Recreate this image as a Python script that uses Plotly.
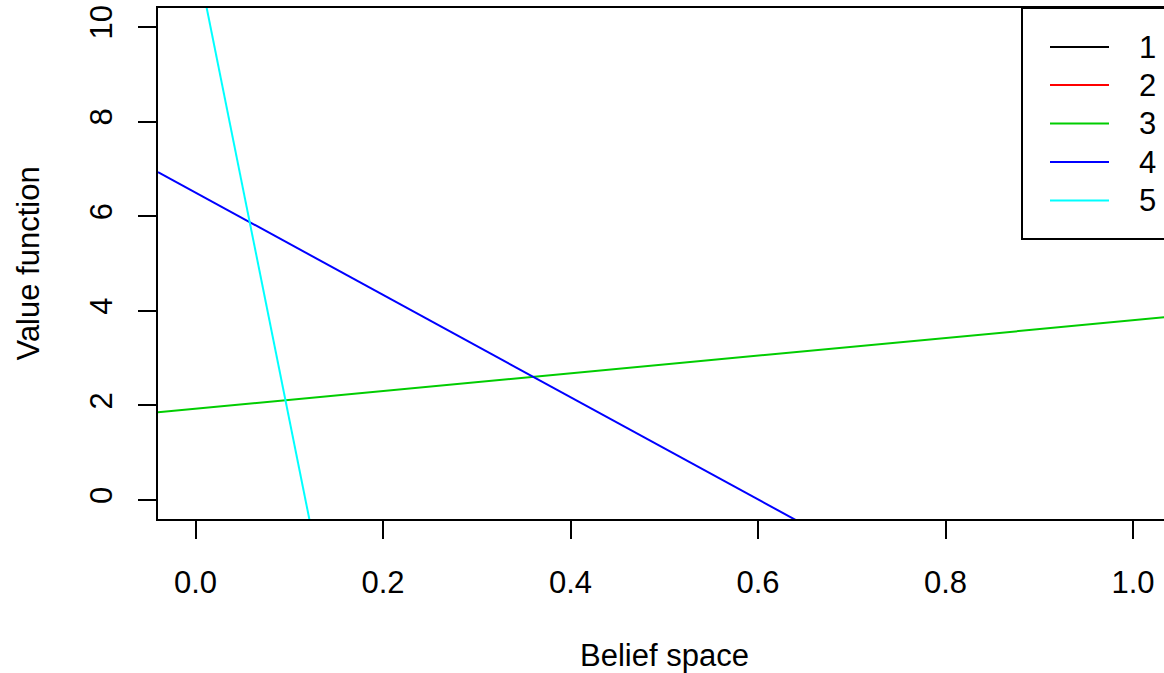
import plotly.graph_objects as go

# Alpha vectors: value at belief 0 and belief 1
series_names = ["1", "2", "3", "4", "5"]
series_colors = ["#000000", "#FF0000", "#00CD00", "#0000FF", "#00FFFF"]
value_at_0 = [None, None, 1.93, 6.50, 11.58]
value_at_1 = [None, None, 3.80, -4.31, -87.1]

x_ticks = [0.0, 0.2, 0.4, 0.6, 0.8, 1.0]
y_ticks = [0, 2, 4, 6, 8, 10]

XLIM = [-0.04, 1.04]
W, H = 1164, 673
L, T, B = 158, 8, 154
FONT = dict(family="Liberation Sans, Arial, sans-serif", size=31, color="black")
LW = 2

fig = go.Figure()
for name, col, v0, v1 in zip(series_names, series_colors, value_at_0, value_at_1):
    if v0 is None:
        xs, ys = [], []
    else:
        slope = v1 - v0
        xs = XLIM
        ys = [v0 + slope * XLIM[0], v0 + slope * XLIM[1]]
    fig.add_trace(go.Scatter(x=xs, y=ys, mode="lines", name=name,
                             line=dict(color=col, width=LW), showlegend=False,
                             hoverinfo="skip"))

plot_w = W - L
x_right = XLIM[0] + plot_w / 937.5

fig.update_layout(
    width=W, height=H,
    margin=dict(l=L, r=0, t=T, b=B, pad=0),
    plot_bgcolor="white", paper_bgcolor="white",
    font=FONT,
    showlegend=False,
    xaxis=dict(range=[XLIM[0], x_right], tickvals=x_ticks,
               ticktext=[f"{v:.1f}" for v in x_ticks],
               showgrid=False, zeroline=False, showline=True, mirror=True,
               linecolor="black", linewidth=2, ticks="outside", ticklen=18,
               tickwidth=2, tickcolor="black", ticklabelstandoff=17,
               tickfont=FONT),
    yaxis=dict(range=[-0.4, 10.4], tickvals=y_ticks,
               ticktext=[str(v) for v in y_ticks], tickangle=-90,
               showgrid=False, zeroline=False, showline=True, mirror=False,
               linecolor="black", linewidth=2, ticks="outside", ticklen=18,
               tickwidth=2, tickcolor="black", ticklabelstandoff=14,
               tickfont=FONT),
)

def px_x(p):
    return (p - L) / (W - L)

def px_y(p):
    return (H - B - p) / (H - B - T)

# axis titles
fig.add_annotation(text="Belief space", x=px_x(664), y=px_y(655), xref="paper", yref="paper",
                   showarrow=False, font=FONT, xanchor="center", yanchor="middle")
fig.add_annotation(text="Value function", x=px_x(28), y=px_y(263.5), xref="paper", yref="paper",
                   showarrow=False, font=FONT, xanchor="center", yanchor="middle", textangle=-90)

# legend box
fig.add_shape(type="rect", xref="paper", yref="paper",
              x0=px_x(1022), x1=px_x(1185), y0=px_y(239), y1=px_y(8),
              line=dict(color="black", width=2), fillcolor="white", layer="above")
row_y = [47, 85, 123.5, 162, 200.5]
for name, col, ry in zip(series_names, series_colors, row_y):
    fig.add_shape(type="line", xref="paper", yref="paper",
                  x0=px_x(1050), x1=px_x(1109), y0=px_y(ry), y1=px_y(ry),
                  line=dict(color=col, width=LW), layer="above")
    fig.add_annotation(text=name, x=px_x(1137), y=px_y(ry), xref="paper", yref="paper",
                       showarrow=False, font=FONT, xanchor="left", yanchor="middle")

fig.write_html("out.html",
               config={"displayModeBar": False},
               post_script="document.body.style.margin='0';document.body.style.overflow='hidden';")
